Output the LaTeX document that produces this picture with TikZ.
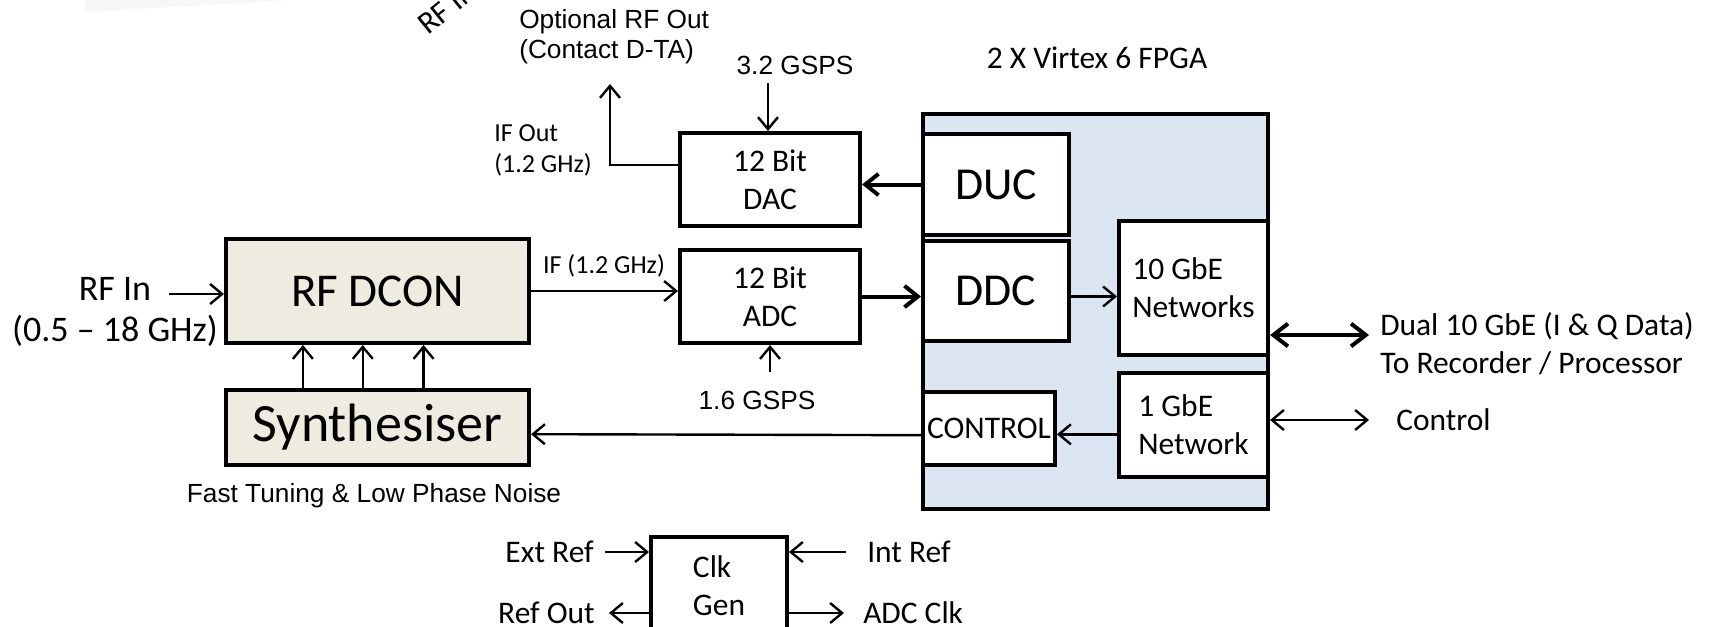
\documentclass[tikz,border=0pt]{standalone}
\usepackage{fontspec}
\setmainfont{Carlito}
\newfontfamily\arialfont{Liberation Sans}
\usetikzlibrary{arrows.meta,calc}
\definecolor{dcontan}{RGB}{238,236,225}
\definecolor{fpgablue}{RGB}{220,230,242}
\newcommand{\txtsize}{\fontsize{23.6}{28.5}\selectfont}
\newcommand{\smallsize}{\fontsize{19.5}{23.3}\selectfont}
\newcommand{\arialsize}{\arialfont\fontsize{19.7}{22.5}\selectfont}
\newcommand{\bigsize}{\fontsize{34.3}{40}\selectfont}
\tikzset{
  blk/.style={draw,line width=3pt,inner sep=0pt,fill=white,align=center},
  lbl/.style={inner sep=0pt},
  thinarr/.style={line width=1.8pt,-{Straight Barb[length=9pt,width=15pt]}},
  thickarr/.style={line width=3pt,-{Straight Barb[length=10pt,width=16pt]}},
  dblthin/.style={line width=1.8pt,{Straight Barb[length=9pt,width=15pt]}-{Straight Barb[length=9pt,width=15pt]}},
  dblthick/.style={line width=3pt,{Straight Barb[length=11pt,width=17pt]}-{Straight Barb[length=11pt,width=17pt]}},
}

\begin{document}
\begin{tikzpicture}[x=.75pt,y=-.75pt,font=\txtsize]
    \useasboundingbox (0,0) rectangle (1709,626);
    % cut-off bits at the top edge
    \fill[black!3] (85,0) -- (85,12) -- (293,0) -- cycle;
    \node[lbl,rotate=39,anchor=base west] (rfincut) at (428,36) {RF IN};

    % RF front end
    \node[blk,fill=dcontan,minimum width=227.3pt,minimum height=78pt,font=\fontsize{35.3}{42}\selectfont] (rfdcon) at (377.5,291) {RF DCON};
    \node[blk,fill=dcontan,minimum width=227.3pt,minimum height=56.3pt,font=\fontsize{40.5}{46}\selectfont] (synth) at (377.5,427.5) {Synthesiser};
    \node[lbl,anchor=base,font=\arialsize] (synthnote) at (374,502) {Fast Tuning \& Low Phase Noise};
    \node[lbl,align=center,font=\fontsize{27}{30.8}\selectfont] (rfinlbl) at (115,312) {RF In\\(0.5 – 18 GHz)};
    \coordinate (rfin) at (169,294);
    \draw[thinarr] (rfin) -- (rfin -| rfdcon.west);
    \foreach \f in {.257,.452,.65}
      \draw[thinarr] ($(synth.north west)!\f!(synth.north east)$) coordinate (tune) -- (tune |- rfdcon.south);

    % converters
    \node[blk,minimum width=135pt,minimum height=69.8pt] (dac) at (770,179.5) {12 Bit\\DAC};
    \node[blk,minimum width=135pt,minimum height=69.8pt] (adc) at (770,296.5) {12 Bit\\ADC};
    \draw[thinarr] (rfdcon.east) -- (rfdcon.east -| adc.west);
    \node[lbl,anchor=base,font=\smallsize] (iflbl) at (604,273) {IF (1.2 GHz)};
    \node[lbl,anchor=base,font=\arialsize] (dacrate) at (795,74) {3.2 GSPS};
    \coordinate (dacsamp) at (768,83);
    \draw[thinarr] (dacsamp) -- (dacsamp |- dac.north);
    \node[lbl,anchor=base,font=\arialsize] (adcrate) at (757,409) {1.6 GSPS};
    \coordinate (adcsamp) at (770,372);
    \draw[thinarr] (adcsamp) -- (adcsamp |- adc.south);
    \node[lbl,anchor=west,align=left,font=\smallsize] (ifoutlbl) at (494,150) {IF Out\\(1.2 GHz)};
    \node[lbl,anchor=west,align=left,font=\arialsize] (rfoutlbl) at (519,37) {Optional RF Out\\(Contact D-TA)};
    \coordinate (ifout) at (610,165);
    \coordinate (rfout) at (610,84);
    \draw[thinarr] (ifout -| dac.west) -- (ifout) -- (rfout);

    % FPGA
    \node[blk,fill=fpgablue,minimum width=258.8pt,minimum height=296.3pt] (fpga) at (1095.5,311.5) {};
    \node[lbl,anchor=base] (fpgalbl) at (1097,68) {2 X Virtex 6 FPGA};
    \node[blk,minimum width=109.5pt,minimum height=75.8pt,font=\bigsize] (duc) at (996,184.5) {DUC};
    \node[blk,minimum width=109.5pt,minimum height=75pt,font=\bigsize] (ddc) at (996,291) {DDC};
    \node[blk,align=left,minimum width=111.8pt,minimum height=99.8pt] (tengbe) at (1193.5,288) {10 GbE\\Networks};
    \node[blk,align=left,minimum width=111.8pt,minimum height=77.3pt] (onegbe) at (1193.5,425) {1 GbE\\Network};
    \node[blk,minimum width=99pt,minimum height=54.8pt] (ctrl) at (989,428.5) {CONTROL};
    \draw[thickarr] (duc.west) -- (duc.west -| dac.east);
    \draw[thickarr] (adc.east) -- (adc.east -| ddc.west);
    \draw[thinarr] (adc.east -| ddc.east) -- (adc.east -| tengbe.west);
    \draw[thinarr] ([yshift=-7pt]onegbe.west) -- ([yshift=-7pt]onegbe.west -| ctrl.east);
    \draw[thinarr] ([yshift=-5pt]ctrl.west) -- ([yshift=-5pt]synth.east);

    % outputs
    \coordinate (dataout) at (1369,335);
    \draw[dblthick] (dataout -| tengbe.east) -- (dataout);
    \node[lbl,anchor=west,align=left] (datalbl) at (1380,343.5) {Dual 10 GbE (I \& Q Data)\\To Recorder / Processor};
    \coordinate (ctlout) at (1369,420);
    \draw[dblthin] (ctlout -| onegbe.east) -- (ctlout);
    \node[lbl,anchor=base west] (ctllbl) at (1396,430) {Control};

    % clock generator
    \node[blk,align=left,minimum width=102pt,minimum height=73.5pt] (clkgen) at (719,586) {Clk\\Gen};
    \coordinate (extref) at (605,552);
    \coordinate (intref) at (846,552);
    \coordinate (refout) at (609,613);
    \coordinate (adcclk) at (844,613);
    \draw[thinarr] (extref) -- (extref -| clkgen.west);
    \draw[thinarr] (intref) -- (intref -| clkgen.east);
    \draw[thinarr] (refout -| clkgen.west) -- (refout);
    \draw[thinarr] (adcclk -| clkgen.east) -- (adcclk);
    \node[lbl,anchor=base east] (extlbl) at (594,562) {Ext Ref};
    \node[lbl,anchor=base west] (intlbl) at (867,562) {Int Ref};
    \node[lbl,anchor=base east] (refoutlbl) at (595,623) {Ref Out};
    \node[lbl,anchor=base west] (adcclklbl) at (863,623) {ADC Clk};
\end{tikzpicture}
\end{document}
